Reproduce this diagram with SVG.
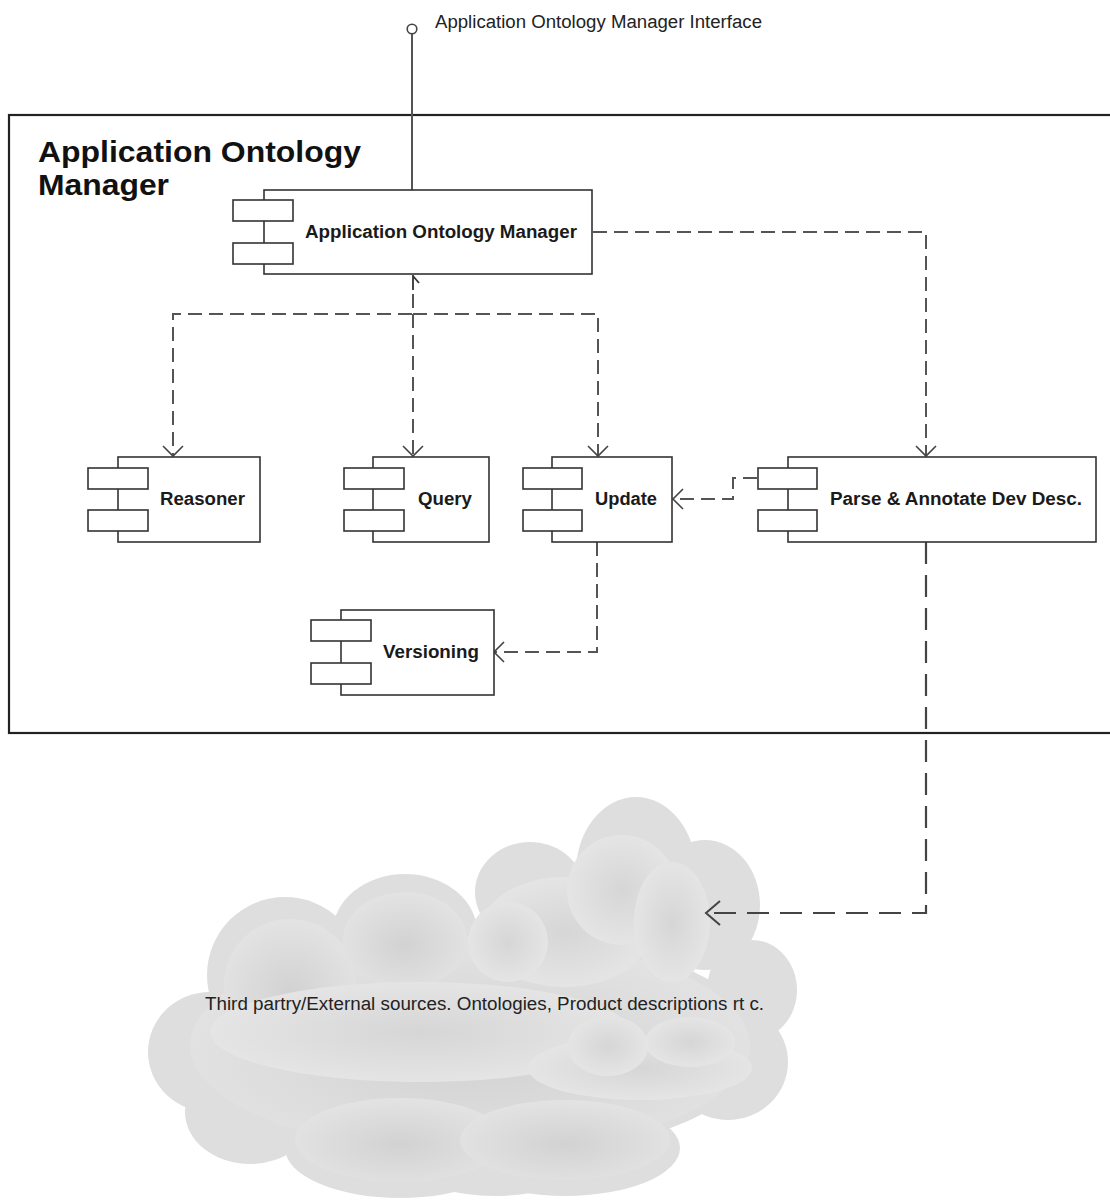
<svg xmlns="http://www.w3.org/2000/svg" width="1110" height="1203" viewBox="0 0 1110 1203">
<style>
.box{fill:#fff;stroke:#333;stroke-width:1.6}
.lbl{font-family:"Liberation Sans",Arial,sans-serif;font-weight:bold;font-size:18px;fill:#1a1a1a}
.reg{font-family:"Liberation Sans",Arial,sans-serif;font-size:18px;fill:#222}
.ttl{font-family:"Liberation Sans",Arial,sans-serif;font-weight:bold;font-size:30px;fill:#111}
.dep{fill:none;stroke:#555;stroke-width:2;stroke-dasharray:14 7}
.dep2{fill:none;stroke:#444;stroke-width:2.2;stroke-dasharray:22 11}
</style>
<defs>
<marker id="arr" markerUnits="userSpaceOnUse" markerWidth="30" markerHeight="30" viewBox="-15 -15 30 30" refX="0" refY="0" orient="auto">
<path d="M-10,-10 L0,0 L-10,10" fill="none" stroke="#444" stroke-width="1.6" stroke-dasharray="none"/>
</marker>
<marker id="arrBig" markerUnits="userSpaceOnUse" markerWidth="34" markerHeight="34" viewBox="-17 -17 34 34" refX="0" refY="0" orient="auto">
<path d="M-14,-12 L0,0 L-14,12" fill="none" stroke="#444" stroke-width="2" stroke-dasharray="none"/>
</marker>
<radialGradient id="cg" cx="50%" cy="55%" r="55%">
<stop offset="0%" stop-color="#d2d2d2"/>
<stop offset="100%" stop-color="#e3e3e3"/>
</radialGradient>
<radialGradient id="cg2" cx="50%" cy="50%" r="55%">
<stop offset="0%" stop-color="#d6d6d6"/>
<stop offset="100%" stop-color="#e6e6e6"/>
</radialGradient>
</defs>
<rect width="1110" height="1203" fill="#fff"/>

<g id="frame">
<rect x="9" y="115" width="1120" height="618" fill="none" stroke="#222" stroke-width="2.2"/>
<text class="ttl" x="38" y="162" textLength="323" lengthAdjust="spacingAndGlyphs">Application Ontology</text>
<text class="ttl" x="38" y="195" textLength="131" lengthAdjust="spacingAndGlyphs">Manager</text>
</g>

<g id="cloud">
<g fill="#dedede">
<ellipse cx="470" cy="1045" rx="290" ry="115"/>
<ellipse cx="285" cy="975" rx="78" ry="78"/>
<ellipse cx="405" cy="932" rx="72" ry="58"/>
<ellipse cx="210" cy="1052" rx="62" ry="60"/>
<ellipse cx="250" cy="1112" rx="65" ry="52"/>
<ellipse cx="400" cy="1148" rx="115" ry="50"/>
<ellipse cx="565" cy="1148" rx="115" ry="48"/>
<ellipse cx="495" cy="1170" rx="75" ry="26"/>
<ellipse cx="530" cy="892" rx="55" ry="50"/>
<ellipse cx="636" cy="872" rx="60" ry="75"/>
<ellipse cx="705" cy="905" rx="55" ry="65"/>
<ellipse cx="752" cy="990" rx="45" ry="50"/>
<ellipse cx="728" cy="1062" rx="60" ry="58"/>
</g>
<g fill="url(#cg)">
<ellipse cx="470" cy="1045" rx="280" ry="108"/>
<ellipse cx="290" cy="985" rx="66" ry="66"/>
<ellipse cx="405" cy="940" rx="62" ry="48"/>
<ellipse cx="400" cy="1140" rx="105" ry="42"/>
<ellipse cx="565" cy="1140" rx="105" ry="40"/>
</g>
<g fill="url(#cg2)">
<ellipse cx="420" cy="1032" rx="210" ry="50"/>
<ellipse cx="565" cy="932" rx="85" ry="55"/>
<ellipse cx="622" cy="890" rx="55" ry="55"/>
<ellipse cx="672" cy="922" rx="38" ry="60"/>
<ellipse cx="508" cy="942" rx="40" ry="40"/>
<ellipse cx="640" cy="1068" rx="112" ry="32"/>
<ellipse cx="608" cy="1046" rx="40" ry="30"/>
<ellipse cx="690" cy="1042" rx="45" ry="25"/>
</g>
<text class="reg" x="205" y="1010" textLength="559" lengthAdjust="spacingAndGlyphs">Third partry/External sources. Ontologies, Product descriptions rt c.</text>
</g>

<g id="interface">
<circle cx="412" cy="29" r="4.8" fill="#fff" stroke="#444" stroke-width="1.6"/>
<text class="reg" x="435" y="28" textLength="327" lengthAdjust="spacingAndGlyphs">Application Ontology Manager Interface</text>
</g>

<g id="connectors">
<path d="M412,34 V190" fill="none" stroke="#555" stroke-width="2"/>
<path class="dep" d="M593,232 H926 V456" marker-end="url(#arr)"/>
<path d="M413,275 V290 M413,276 L419,283" fill="none" stroke="#333" stroke-width="1.8"/>
<path class="dep" d="M413,294 V314 H173 V456" marker-end="url(#arr)"/>
<path class="dep" d="M413,314 V456" marker-end="url(#arr)"/>
<path class="dep" d="M413,314 H598 V456" marker-end="url(#arr)"/>
<path class="dep" d="M757,478 H733 V499 H673" marker-end="url(#arr)"/>
<path class="dep" d="M597,542 V652 H494" marker-end="url(#arr)"/>
<path class="dep2" d="M926,542 V913 H706" marker-end="url(#arrBig)"/>
</g>

<g id="aom">
<rect class="box" x="264" y="190" width="328" height="84"/>
<rect class="box" x="233" y="200" width="60" height="21"/>
<rect class="box" x="233" y="243" width="60" height="21"/>
<text class="lbl" x="305" y="238" textLength="272" lengthAdjust="spacingAndGlyphs">Application Ontology Manager</text>
</g>

<g id="reasoner">
<rect class="box" x="118" y="457" width="142" height="85"/>
<rect class="box" x="88" y="468" width="60" height="21"/>
<rect class="box" x="88" y="510" width="60" height="21"/>
<text class="lbl" x="160" y="505" textLength="85" lengthAdjust="spacingAndGlyphs">Reasoner</text>
</g>

<g id="query">
<rect class="box" x="373" y="457" width="116" height="85"/>
<rect class="box" x="344" y="468" width="60" height="21"/>
<rect class="box" x="344" y="510" width="60" height="21"/>
<text class="lbl" x="418" y="505" textLength="54" lengthAdjust="spacingAndGlyphs">Query</text>
</g>

<g id="update">
<rect class="box" x="552" y="457" width="120" height="85"/>
<rect class="box" x="523" y="468" width="59" height="21"/>
<rect class="box" x="523" y="510" width="59" height="21"/>
<text class="lbl" x="595" y="505" textLength="62" lengthAdjust="spacingAndGlyphs">Update</text>
</g>

<g id="parse">
<rect class="box" x="788" y="457" width="308" height="85"/>
<rect class="box" x="758" y="468" width="59" height="21"/>
<rect class="box" x="758" y="510" width="59" height="21"/>
<text class="lbl" x="830" y="505" textLength="252" lengthAdjust="spacingAndGlyphs">Parse &amp; Annotate Dev Desc.</text>
</g>

<g id="versioning">
<rect class="box" x="341" y="610" width="153" height="85"/>
<rect class="box" x="311" y="620" width="60" height="21"/>
<rect class="box" x="311" y="663" width="60" height="21"/>
<text class="lbl" x="383" y="658" textLength="96" lengthAdjust="spacingAndGlyphs">Versioning</text>
</g>
</svg>
